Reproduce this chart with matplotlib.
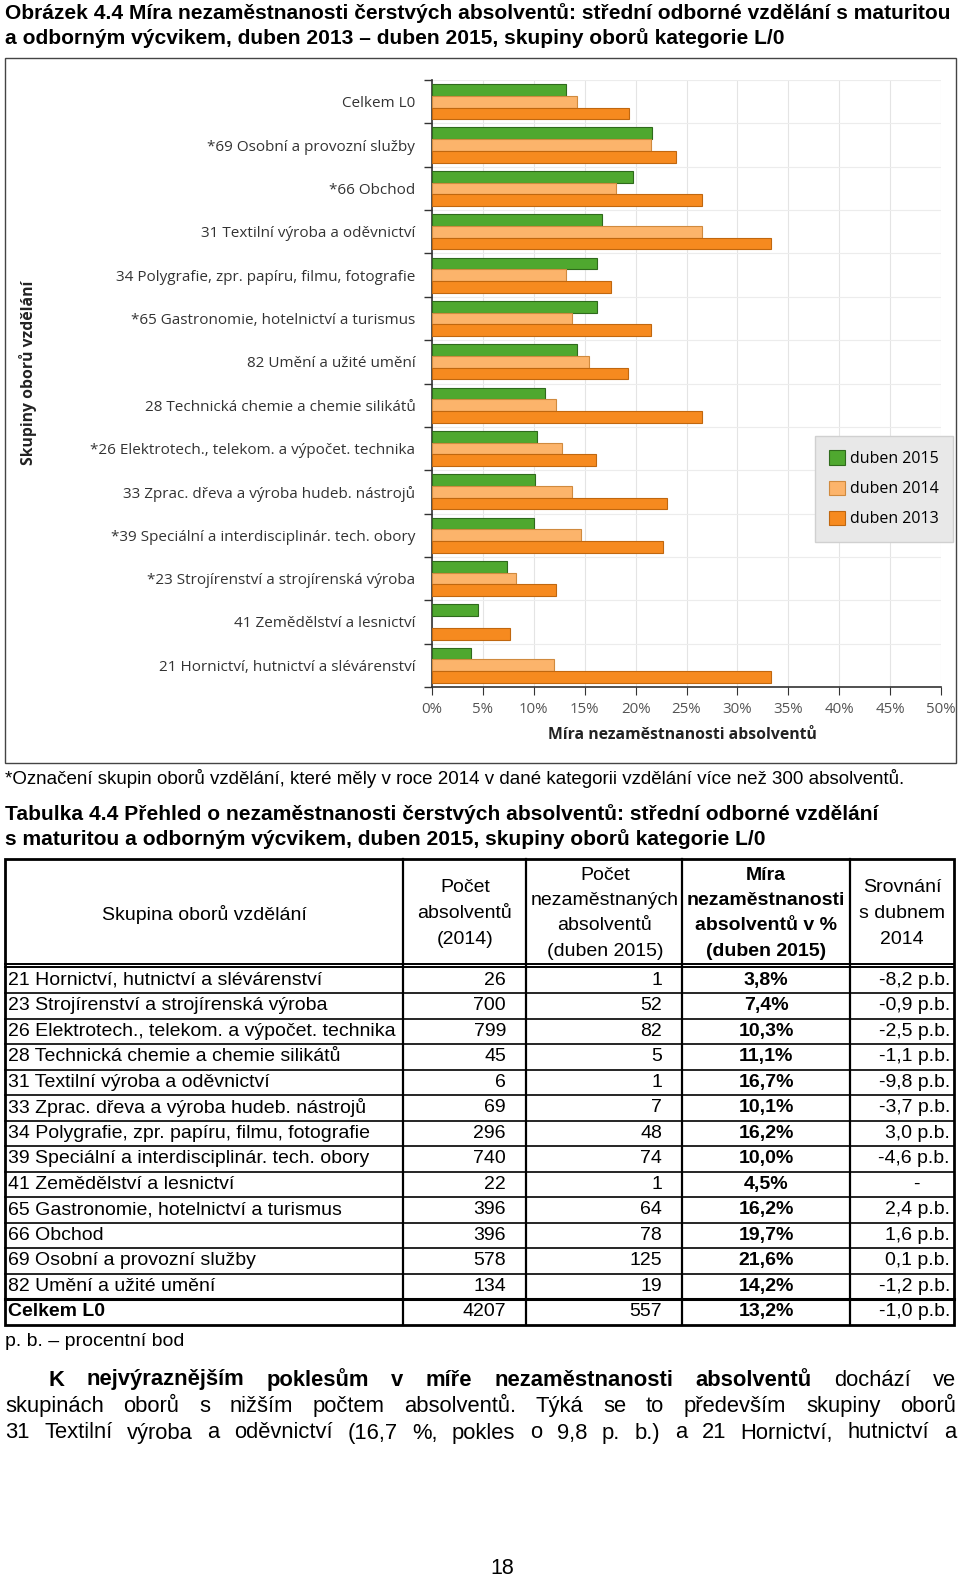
import numpy as np
import matplotlib.pyplot as plt
from matplotlib import font_manager
from matplotlib.patches import Rectangle

W, H, DPI = 960, 1581, 100

# ---- chart data (bottom -> top as drawn) ----
chart_groups = ["21 Hornictví, hutnictví a slévárenství",
                "41 Zemědělství a lesnictví",
                "*23 Strojírenství a strojírenská výroba",
                "*39 Speciální a interdisciplinár. tech. obory",
                "33 Zprac. dřeva a výroba hudeb. nástrojů",
                "*26 Elektrotech., telekom. a výpočet. technika",
                "28 Technická chemie a chemie silikátů",
                "82 Umění a užité umění",
                "*65 Gastronomie, hotelnictví a turismus",
                "34 Polygrafie, zpr. papíru, filmu, fotografie",
                "31 Textilní výroba a oděvnictví",
                "*66 Obchod",
                "*69 Osobní a provozní služby",
                "Celkem L0"]
rate_2015 = [3.8, 4.5, 7.4, 10.0, 10.1, 10.3, 11.1, 14.2, 16.2, 16.2, 16.7, 19.7, 21.6, 13.2]
rate_2014 = [12.0, np.nan, 8.3, 14.6, 13.8, 12.8, 12.2, 15.4, 13.8, 13.2, 26.5, 18.1, 21.5, 14.2]
rate_2013 = [33.3, 7.7, 12.2, 22.7, 23.1, 16.1, 26.5, 19.3, 21.5, 17.6, 33.3, 26.5, 24.0, 19.4]
series_labels = ["duben 2015", "duben 2014", "duben 2013"]
x_ticks = [0, 5, 10, 15, 20, 25, 30, 35, 40, 45, 50]

# ---- table data ----
tab_names = ["21 Hornictví, hutnictví a slévárenství",
             "23 Strojírenství a strojírenská výroba",
             "26 Elektrotech., telekom. a výpočet. technika",
             "28 Technická chemie a chemie silikátů",
             "31 Textilní výroba a oděvnictví",
             "33 Zprac. dřeva a výroba hudeb. nástrojů",
             "34 Polygrafie, zpr. papíru, filmu, fotografie",
             "39 Speciální a interdisciplinár. tech. obory",
             "41 Zemědělství a lesnictví",
             "65 Gastronomie, hotelnictví a turismus",
             "66 Obchod",
             "69 Osobní a provozní služby",
             "82 Umění a užité umění",
             "Celkem L0"]
tab_absolventi = [26, 700, 799, 45, 6, 69, 296, 740, 22, 396, 396, 578, 134, 4207]
tab_nezam = [1, 52, 82, 5, 1, 7, 48, 74, 1, 64, 78, 125, 19, 557]
tab_mira = [3.8, 7.4, 10.3, 11.1, 16.7, 10.1, 16.2, 10.0, 4.5, 16.2, 19.7, 21.6, 14.2, 13.2]
tab_srovnani = [-8.2, -0.9, -2.5, -1.1, -9.8, -3.7, 3.0, -4.6, None, 2.4, 1.6, 0.1, -1.2, -1.0]

# ---- fonts ----
installed = {f.name for f in font_manager.fontManager.ttflist}
NARROW = "Liberation Sans Narrow" if "Liberation Sans Narrow" in installed else "Liberation Sans"
CHART = "Open Sans"


def cz(v, nd=1):
    return f"{v:.{nd}f}".replace(".", ",")


fig = plt.figure(figsize=(W / DPI, H / DPI), dpi=DPI)
page = fig.add_axes([0, 0, 1, 1])
page.set_xlim(0, W)
page.set_ylim(H, 0)
page.axis("off")


def txt(x, y, s, size=13, bold=False, ha="left", va="center", family=NARROW, **kw):
    return page.text(x, y, s, fontsize=size, fontweight="bold" if bold else "normal",
                     ha=ha, va=va, family=family, **kw)


# titles
txt(5, 13, "Obrázek 4.4 Míra nezaměstnanosti čerstvých absolventů: střední odborné vzdělání s maturitou",
    size=15.1, bold=True)
txt(5, 38, "a odborným výcvikem, duben 2013 – duben 2015, skupiny oborů kategorie L/0", size=15.1, bold=True)

# chart frame
page.add_patch(Rectangle((5, 58), 951, 705, fill=False, edgecolor="#444444", lw=1.0))

# ---- chart ----
left, right, top, bottom = 432, 941, 80, 687
ax = fig.add_axes([left / W, 1 - bottom / H, (right - left) / W, (bottom - top) / H])
y = np.arange(len(chart_groups))
h = 0.27
ax.barh(y + h, rate_2015, height=h, color="#4fa82f", edgecolor="#2f6a1c", lw=0.8, label=series_labels[0], zorder=3)
ax.barh(y, rate_2014, height=h, color="#fcb46b", edgecolor="#d08a3e", lw=0.8, label=series_labels[1], zorder=3)
ax.barh(y - h, rate_2013, height=h, color="#f68a1f", edgecolor="#c0670f", lw=0.8, label=series_labels[2], zorder=3)
ax.set_xlim(0, 50)
ax.set_ylim(-0.5, len(chart_groups) - 0.5)
ax.set_xticks(x_ticks)
ax.set_xticklabels([f"{t}%" for t in x_ticks], family=CHART, fontsize=10.8, color="#555555")
ax.set_yticks(y)
ax.set_yticklabels(chart_groups, family=CHART, fontsize=11, color="#333333")
ax.set_yticks(np.arange(-0.5, len(chart_groups)), minor=True)
ax.tick_params(axis="y", which="major", length=0, pad=12)
ax.tick_params(axis="y", which="minor", length=6, color="#333333", width=1)
ax.tick_params(axis="x", length=6, color="#333333", pad=5)
ax.grid(axis="x", color="#e4e4e4", lw=0.8, zorder=0)
ax.grid(axis="y", which="minor", color="#ececec", lw=0.8, zorder=0)
for s in ("top", "right"):
    ax.spines[s].set_visible(False)
for s in ("left", "bottom"):
    ax.spines[s].set_color("#333333")
    ax.spines[s].set_linewidth(1.2)
leg = ax.legend(loc="upper right", bbox_to_anchor=(953 / W, 1 - 436 / H), bbox_transform=fig.transFigure,
                prop={"family": CHART, "size": 11.5}, facecolor="#e8e8e8", edgecolor="#d0d0d0",
                framealpha=1, fancybox=False, labelspacing=0.85, handlelength=1.0, handleheight=1.0,
                handletextpad=0.3, borderpad=0.9, borderaxespad=0)
leg.get_frame().set_linewidth(1)

txt(682, 735, "Míra nezaměstnanosti absolventů", size=11.3, bold=True, ha="center", family=CHART, color="#222222")
txt(28, 373, "Skupiny oborů vzdělání", size=11.3, bold=True, ha="center", family=CHART, rotation=90, color="#222222")

# footnote + table title
txt(5, 778, "*Označení skupin oborů vzdělání, které měly v roce 2014 v dané kategorii vzdělání více než 300 absolventů.",
    size=13.5)
txt(5, 814, "Tabulka 4.4 Přehled o nezaměstnanosti čerstvých absolventů: střední odborné vzdělání", size=15.1, bold=True)
txt(5, 839, "s maturitou a odborným výcvikem, duben 2015, skupiny oborů kategorie L/0", size=15.1, bold=True)

# ---- table ----
cols = [5, 403, 526, 682, 850, 954]
t_top, h_bot = 859, 965
row_h = 25.5
r0 = h_bot + 2.5
t_bot = r0 + row_h * len(tab_names)
page.add_patch(Rectangle((cols[0], t_top), cols[-1] - cols[0], t_bot - t_top, fill=False, edgecolor="black", lw=2))
for cx in cols[1:-1]:
    page.plot([cx, cx], [t_top, t_bot], color="black", lw=1.6)
page.plot([cols[0], cols[-1]], [h_bot - 1.5, h_bot - 1.5], color="black", lw=1.4)
page.plot([cols[0], cols[-1]], [h_bot + 1.5, h_bot + 1.5], color="black", lw=1.4)
for k in range(1, len(tab_names)):
    yy = r0 + k * row_h
    page.plot([cols[0], cols[-1]], [yy, yy], color="black", lw=1.2 if k < len(tab_names) - 1 else 2.2)

TS = 14
txt(204, 914, "Skupina oborů vzdělání", size=TS, ha="center")
for i, s in enumerate(["Počet", "absolventů", "(2014)"]):
    txt(465, 888 + i * 25.5, s, size=TS, ha="center")
for i, s in enumerate(["Počet", "nezaměstnaných", "absolventů", "(duben 2015)"]):
    txt(605, 875 + i * 25.5, s, size=TS, ha="center")
for i, s in enumerate(["Míra", "nezaměstnanosti", "absolventů v %", "(duben 2015)"]):
    txt(766, 875 + i * 25.5, s, size=TS, ha="center", bold=True)
for i, s in enumerate(["Srovnání", "s dubnem", "2014"]):
    txt(902, 888 + i * 25.5, s, size=TS, ha="center")

for i, name in enumerate(tab_names):
    yc = r0 + (i + 0.5) * row_h
    last = i == len(tab_names) - 1
    txt(8, yc, name, size=TS, bold=last)
    txt(506, yc, str(tab_absolventi[i]), size=TS, ha="right")
    txt(662, yc, str(tab_nezam[i]), size=TS, ha="right")
    txt(766, yc, cz(tab_mira[i]) + "%", size=TS, ha="center", bold=True)
    sv = tab_srovnani[i]
    if sv is None:
        txt(916, yc, "-", size=TS, ha="center")
    else:
        txt(950, yc, cz(sv) + " p.b.", size=TS, ha="right")

txt(5, 1342, "p. b. – procentní bod", size=TS)

# ---- justified paragraph ----
PS = 15.8
lines = [
    (48, [(w, True) for w in "K nejvýraznějším poklesům v míře nezaměstnanosti absolventů".split()]
     + [("dochází", False), ("ve", False)]),
    (5, [(w, False) for w in "skupinách oborů s nižším počtem absolventů. Týká se to především skupiny oborů".split()]),
    (5, [(w, False) for w in "31 Textilní výroba a oděvnictví (16,7 %, pokles o 9,8 p. b.) a 21 Hornictví, hutnictví a".split()]),
]
renderer = fig.canvas.get_renderer()
for li, (x0, words) in enumerate(lines):
    yc = 1380 + li * 26.5
    objs = [txt(0, yc, w, size=PS, bold=b) for w, b in words]
    widths = [o.get_window_extent(renderer).width for o in objs]
    gap = (956 - x0 - sum(widths)) / (len(words) - 1)
    xx = x0
    for o, wd in zip(objs, widths):
        o.set_x(xx)
        xx += wd + gap

txt(502, 1568, "18", size=15.5, ha="center")

fig.savefig("out.png", dpi=DPI)
